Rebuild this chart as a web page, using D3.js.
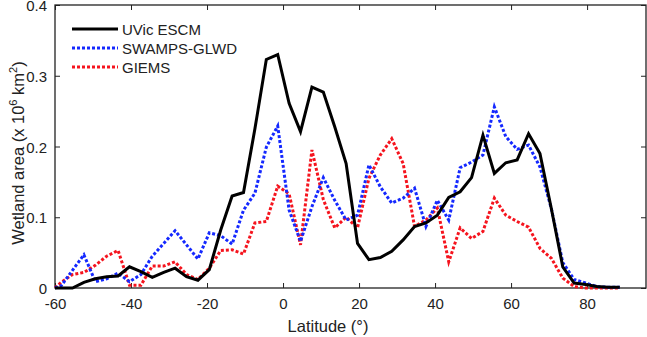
<!DOCTYPE html>
<html>
<head>
<meta charset="utf-8">
<script src="https://cdn.jsdelivr.net/npm/d3@7"></script>
<style>
 body { margin: 0; background: #fff; }
 text { font-family: "Liberation Sans", Arial, sans-serif; fill: #222; }
</style>
</head>
<body>
<div id="chart-area"></div>
<script>
// latitude of each point (degrees)
var lat = [-60, -58.4, -55.4, -52.4, -49.4, -46.4, -43.4, -40.4, -37.4, -34.4, -31.4,
  -28.4, -25.4, -22.4, -19.4, -16.4, -13.4, -10.4, -7.4, -4.4, -1.4,
  1.6, 4.6, 7.6, 10.6, 13.6, 16.6, 19.6, 22.6, 25.6, 28.6,
  31.6, 34.6, 37.6, 40.6, 43.6, 46.6, 49.6, 52.6, 55.6, 58.6,
  61.6, 64.6, 67.6, 70.6, 73.6, 76.6, 79.6, 82.6, 85.6, 88.6];

// wetland area, x 10^6 km2
var uvic = [0, 0, 0, 0.008, 0.013, 0.016, 0.017, 0.030, 0.023, 0.015, 0.022,
  0.028, 0.016, 0.011, 0.026, 0.082, 0.130, 0.135, 0.225, 0.323, 0.330,
  0.261, 0.221, 0.284, 0.277, 0.228, 0.176, 0.063, 0.040, 0.043, 0.052,
  0.068, 0.087, 0.092, 0.103, 0.128, 0.136, 0.156, 0.216, 0.162, 0.177,
  0.181, 0.218, 0.190, 0.112, 0.030, 0.007, 0.005, 0.002, 0.001, 0.001];

var swamps = [0, 0.003, 0.025, 0.047, 0.009, 0.013, 0.021, 0.009, 0.019, 0.045, 0.063,
  0.081, 0.061, 0.041, 0.078, 0.074, 0.062, 0.110, 0.134, 0.199, 0.229,
  0.110, 0.066, 0.115, 0.156, 0.124, 0.096, 0.103, 0.174, 0.143, 0.120,
  0.127, 0.141, 0.087, 0.124, 0.096, 0.170, 0.178, 0.188, 0.256, 0.214,
  0.196, 0.202, 0.171, 0.112, 0.036, 0.012, 0.007, 0.002, 0.001, 0.001];

var giems = [0, 0.008, 0.019, 0.022, 0.032, 0.045, 0.053, 0.004, 0.004, 0.031, 0.031,
  0.037, 0.019, 0.012, 0.028, 0.053, 0.054, 0.048, 0.092, 0.094, 0.144,
  0.133, 0.061, 0.195, 0.125, 0.085, 0.100, 0.085, 0.155, 0.188, 0.211,
  0.176, 0.087, 0.096, 0.113, 0.037, 0.085, 0.070, 0.080, 0.127, 0.103,
  0.094, 0.086, 0.056, 0.042, 0.014, 0.002, 0, 0, 0, 0];

var seriesNames = ["UVic ESCM", "SWAMPS-GLWD", "GIEMS"];
var xTicks = [-60, -40, -20, 0, 20, 40, 60, 80];
var yTicks = [0, 0.1, 0.2, 0.3, 0.4];

var margin = {top: 5, right: 1, bottom: 49, left: 55},
  width = 647 - margin.left - margin.right,
  height = 337 - margin.top - margin.bottom;

var svg = d3.select("#chart-area")
  .append("svg")
  .attr("width", width + margin.left + margin.right)
  .attr("height", height + margin.top + margin.bottom)
  .append("g")
  .attr("transform", `translate(${margin.left}, ${margin.top})`);

var x = d3.scaleLinear().domain([-60, 95.5]).range([0, width]);
var y = d3.scaleLinear().domain([0, 0.4]).range([height, 0]);

// axes, ticks point inward like matlab
var xAxis = d3.axisBottom(x).tickValues(xTicks).tickSize(-5).tickPadding(10)
  .tickFormat(d => String(d));
var yAxis = d3.axisLeft(y).tickValues(yTicks).tickSize(-5).tickPadding(8)
  .tickFormat(d => d === 0 ? "0" : d.toFixed(1));

svg.append("g").attr("transform", `translate(0, ${height})`).call(xAxis);
var gy = svg.append("g").call(yAxis);
gy.selectAll(".tick text").attr("dy", "0.38em");
svg.append("g").call(d3.axisTop(x).tickValues(xTicks).tickSize(-5).tickFormat(""));
svg.append("g").attr("transform", `translate(${width}, 0)`)
  .call(d3.axisRight(y).tickValues(yTicks).tickSize(-5).tickFormat(""));

svg.selectAll(".domain").remove();
svg.selectAll(".tick line").attr("stroke", "#222");
svg.selectAll(".tick text").attr("font-size", "15px").attr("fill", "#222");

svg.append("rect")
  .attr("width", width).attr("height", height)
  .attr("fill", "none").attr("stroke", "#222").attr("stroke-width", 1.3);

var line = d3.line().x((d, i) => x(lat[i])).y(d => y(d));

var styles = [
  {data: uvic, color: "#000", dash: null},
  {data: swamps, color: "#1428ff", dash: "3,2"},
  {data: giems, color: "#f5141e", dash: "3,2"}
];

// draw red first so black sits on top
[2, 1, 0].forEach(function(k) {
  var s = styles[k];
  svg.append("path")
    .datum(s.data)
    .attr("d", line)
    .attr("fill", "none")
    .attr("stroke", s.color)
    .attr("stroke-width", 3)
    .attr("stroke-dasharray", s.dash);
});

// legend
var legend = svg.append("g").attr("transform", "translate(17, 24)");
seriesNames.forEach(function(name, i) {
  var g = legend.append("g").attr("transform", `translate(0, ${i * 19})`);
  g.append("line")
    .attr("x1", 0).attr("x2", 46)
    .attr("stroke", styles[i].color)
    .attr("stroke-width", 3)
    .attr("stroke-dasharray", styles[i].dash);
  g.append("text")
    .attr("x", 50).attr("y", 5.5)
    .attr("font-size", "15px")
    .text(name);
});

// axis labels
svg.append("text")
  .attr("x", 273).attr("y", height + 44)
  .attr("text-anchor", "middle")
  .attr("font-size", "16.5px")
  .text("Latitude (°)");

var ylab = svg.append("text")
  .attr("transform", "translate(-31, 148) rotate(-90)")
  .attr("text-anchor", "middle")
  .attr("font-size", "16.5px");
ylab.append("tspan").text("Wetland area (x 10");
ylab.append("tspan").attr("dy", -7).attr("font-size", "11px").text("6");
ylab.append("tspan").attr("dy", 7).text(" km");
ylab.append("tspan").attr("dy", -7).attr("font-size", "11px").text("2");
ylab.append("tspan").attr("dy", 7).text(")");
</script>
</body>
</html>
